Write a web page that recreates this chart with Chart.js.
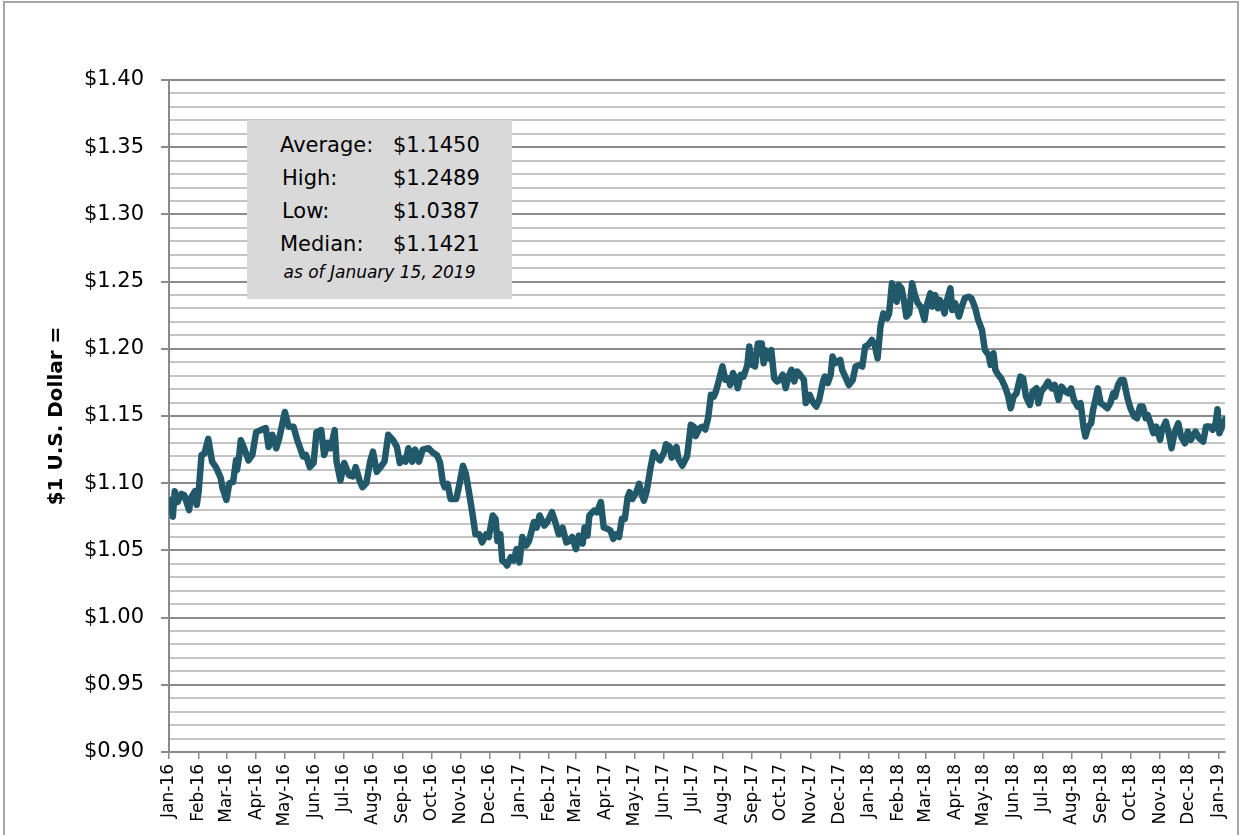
<!DOCTYPE html>
<html>
<head>
<meta charset="utf-8">
<script src="https://cdn.jsdelivr.net/npm/chart.js@4.4.1/dist/chart.umd.min.js"></script>
<style>
html,body{margin:0;padding:0;background:#fff;overflow:hidden;}
#wrap{position:relative;width:1244px;height:835px;overflow:hidden;}
#c{position:absolute;left:0;top:0;}
#frame{position:absolute;left:3px;top:1px;width:1232px;height:900px;border:2px solid #a6a6a6;pointer-events:none;}
#stats{position:absolute;left:247px;top:120px;width:265px;height:179px;background:#d9d9d9;font-family:'DejaVu Sans',sans-serif;color:#000;}
#stats .t{position:absolute;font-size:21px;line-height:24px;white-space:nowrap;}
#stats .note{position:absolute;left:0;width:265px;text-align:center;font-size:17px;line-height:20px;font-style:italic;white-space:nowrap;}
</style>
</head>
<body>
<div id="wrap">
<canvas id="c" width="1244" height="835"></canvas>
<div id="stats"></div>
<div id="frame"></div>
</div>
<script>
// ---- data ----
const monthLabels = ['Jan-16','Feb-16','Mar-16','Apr-16','May-16','Jun-16','Jul-16','Aug-16','Sep-16','Oct-16','Nov-16','Dec-16',
  'Jan-17','Feb-17','Mar-17','Apr-17','May-17','Jun-17','Jul-17','Aug-17','Sep-17','Oct-17','Nov-17','Dec-17',
  'Jan-18','Feb-18','Mar-18','Apr-18','May-18','Jun-18','Jul-18','Aug-18','Sep-18','Oct-18','Nov-18','Dec-18','Jan-19'];

// days since 1 Jan 2016
const dayIndex = [
  1,4,6,9,13,16,21,23,27,29,31,34,37,41,45,49,54,56,60,63,67,70,71,73,75,79,83,87,91,96,101,104,108,112,115,121,125,130,134,140,
  143,147,151,154,159,162,166,169,173,175,179,183,188,192,195,199,202,206,210,213,217,221,225,229,234,238,241,245,247,250,254,257,261,265,271,
  275,280,283,286,288,291,294,300,303,307,310,313,317,320,324,327,331,334,338,341,343,346,348,351,353,357,360,363,366,369,373,376,381,384,387,
  392,395,400,403,407,411,415,418,421,425,428,432,434,437,439,444,447,451,454,458,461,464,467,470,473,476,479,481,484,488,491,494,496,499,
  503,506,510,513,517,519,523,525,530,532,536,
  541,545,548,550,554,557,560,563,566,569,571,574,578,581,584,586,589,592,594,597,600,604,606,609,612,615,619,621,623,626,629,632,635,638,
  641,644,647,650,653,656,659,663,665,669,672,676,679,683,685,688,691,693,696,701,
  703,707,710,714,717,721,724,727,730,734,737,740,743,746,750,752,755,758,760,762,765,768,770,773,776,779,782,785,789,791,795,797,800,803,
  805,810,812,816,818,821,825,828,831,835,838,842,845,849,852,856,858,861,863,866,869,873,876,879,882,885,889,892,895,899,902,906,908,911,
  915,918,922,925,929,932,936,939,942,945,949,952,955,957,960,963,965,967,970,973,976,980,983,986,988,991,994,997,1001,1004,1008,1011,1014,
  1017,1020,1022,1025,1028,1031,1035,1037,1041,1044,1047,1050,1054,1057,1061,1064,1067,1072,1076,1080,1083,1087,1090,1093,1095,1097,1101,1103
];

// dollar value of 1 euro
const eurUsd = [
  1.0875,1.075,1.094,1.086,1.092,1.091,1.080,1.089,1.094,1.084,1.094,1.121,1.122,1.133,1.116,1.112,1.104,1.096,1.0875,1.100,1.101,1.117,1.110,1.1185,1.132,1.125,1.117,1.121,1.138,1.1395,1.141,1.127,1.136,1.126,1.133,1.153,1.142,1.142,1.132,1.120,
  1.121,1.112,1.115,1.138,1.1395,1.121,1.130,1.126,1.1395,1.116,1.102,1.115,1.106,1.105,1.112,1.102,1.097,1.100,1.116,1.1235,1.1085,1.112,1.116,1.136,1.132,1.127,1.115,1.1185,1.116,1.126,1.116,1.125,1.116,1.125,1.126,
  1.123,1.1206,1.1156,1.1007,1.097,1.0995,1.0883,1.0883,1.0983,1.113,1.107,1.0945,1.077,1.062,1.062,1.056,1.062,1.060,1.076,1.0735,1.057,1.062,1.0425,1.041,1.0387,1.045,1.0425,1.051,1.041,1.060,1.0536,1.057,1.071,1.067,1.076,
  1.0685,1.071,1.0784,1.072,1.062,1.067,1.056,1.057,1.060,1.051,1.061,1.055,1.067,1.061,1.076,1.0797,1.0784,1.086,1.067,1.066,1.0648,1.0586,1.062,1.060,1.0735,1.0735,1.0896,1.0933,1.0883,1.0933,1.0995,1.0908,1.087,1.0945,
  1.112,1.123,1.119,1.117,1.123,1.129,1.127,1.119,1.127,1.118,1.113,
  1.120,1.1435,1.142,1.135,1.141,1.142,1.140,1.1484,1.1658,1.1645,1.168,1.1757,1.1869,1.177,1.178,1.173,1.182,1.177,1.1707,1.1807,1.1794,1.188,1.2017,1.188,1.1869,1.204,1.204,1.1893,1.199,1.193,1.199,1.178,1.1757,1.177,
  1.1807,1.1707,1.1794,1.1844,1.1757,1.1831,1.1807,1.177,1.1596,1.1658,1.1608,1.157,1.162,1.1757,1.1794,1.1745,1.1807,1.1943,1.1893,1.1918,
  1.1843,1.178,1.173,1.1768,1.1868,1.188,1.1868,1.2016,1.2029,1.2066,1.2029,1.193,1.2165,1.2264,1.2227,1.2264,1.2488,1.2376,1.2351,1.2475,1.245,1.2339,1.224,1.2264,1.2488,1.24,1.2339,1.2314,1.2215,1.2314,1.2413,1.2314,1.24,1.2302,
  1.2364,1.2264,1.2351,1.245,1.2289,1.2339,1.224,1.2314,1.2376,1.2388,1.2376,1.2302,1.2215,1.214,1.1992,1.1954,1.188,1.1967,1.1843,1.1806,1.178,1.1719,1.1657,1.1558,1.1644,1.1669,1.1793,1.178,1.1644,1.1582,1.1682,1.1706,1.1595,1.1682,
  1.1719,1.1756,1.1706,1.1731,1.162,1.1719,1.1682,1.1669,1.1706,1.162,1.157,1.1595,1.1421,1.1347,1.1421,1.1446,1.1545,1.1607,1.1706,1.1595,1.1582,1.1558,1.1595,1.1669,1.1644,1.1731,1.1768,1.1768,1.1632,1.1558,1.1496,1.1483,1.157,
  1.157,1.1483,1.1508,1.1446,1.1372,1.1421,1.1322,1.1397,1.1458,1.1372,1.126,1.1372,1.1446,1.1347,1.1297,1.1384,1.1322,1.1384,1.1334,1.131,1.1421,1.1421,1.1397,1.1446,1.155,1.1372,1.1446,1.1476
];

const statLabels = ['Average:','High:','Low:','Median:'];
const statValues = ['$1.1450','$1.2489','$1.0387','$1.1421'];
const statNote = 'as of January 15, 2019';
const yTitle = '$1 U.S. Dollar =';
const yMin = 0.90, yMax = 1.40, yMinorStep = 0.01;
const xMax = 1103;

// ---- stats box ----
const box = document.getElementById('stats');
const labLeft = [33, 35, 35, 33];
statLabels.forEach((s, i) => {
  const a = document.createElement('div'); a.className = 't';
  a.style.left = labLeft[i] + 'px'; a.style.top = (13 + i * 33) + 'px'; a.textContent = s; box.appendChild(a);
  const b = document.createElement('div'); b.className = 't';
  b.style.left = '146px'; b.style.top = (13 + i * 33) + 'px'; b.textContent = statValues[i]; box.appendChild(b);
});
const n = document.createElement('div'); n.className = 'note'; n.style.top = '142px'; n.textContent = statNote; box.appendChild(n);

// ---- chart ----
const monthDays = monthLabels.map((_, i) => Math.round((Date.UTC(2016, i, 1) - Date.UTC(2016, 0, 1)) / 86400000));
const points = dayIndex.map((d, i) => ({ x: d, y: eurUsd[i] }));
const isMajor = v => Math.abs(Math.round(v * 100)) % 5 === 0;
const FONT = "'DejaVu Sans', sans-serif";

new Chart(document.getElementById('c'), {
  type: 'line',
  data: { datasets: [{
    data: points,
    borderColor: '#21596a',
    borderWidth: 6.5,
    pointRadius: 0,
    tension: 0,
    borderJoinStyle: 'round',
    borderCapStyle: 'round',
    fill: false
  }]},
  options: {
    responsive: false,
    animation: false,
    parsing: false,
    layout: { padding: { left: 41, top: 80, right: 17, bottom: 0 } },
    plugins: { legend: { display: false }, tooltip: { enabled: false } },
    scales: {
      x: {
        type: 'linear', min: 0, max: xMax,
        afterBuildTicks: s => { s.ticks = monthDays.map(v => ({ value: v })); },
        afterFit: s => { s.height = 83; },
        grid: { drawOnChartArea: false, drawTicks: true, tickLength: 7, color: '#8a8a8a', lineWidth: 1.5 },
        border: { display: true, color: '#8a8a8a', width: 2 },
        ticks: {
          autoSkip: false, maxRotation: 90, minRotation: 90, padding: 5,
          color: '#000', font: { family: FONT, size: 17 },
          callback: (v, i) => monthLabels[i]
        }
      },
      y: {
        min: yMin, max: yMax,
        afterFit: s => { s.width = 128; },
        title: { display: true, text: yTitle, color: '#000', font: { family: FONT, size: 20, weight: 'bold' } },
        grid: {
          drawTicks: true, tickLength: 8, lineWidth: 2,
          color: c => isMajor(c.tick.value) ? '#8a8a8a' : '#c4c4c4',
          tickColor: c => isMajor(c.tick.value) ? '#8a8a8a' : 'rgba(0,0,0,0)'
        },
        border: { display: true, color: '#8a8a8a', width: 2 },
        ticks: {
          stepSize: yMinorStep, autoSkip: false, padding: 17,
          color: '#000', font: { family: FONT, size: 21 },
          callback: v => isMajor(v) ? '$' + v.toFixed(2) : ''
        }
      }
    }
  }
});
</script>
</body>
</html>
